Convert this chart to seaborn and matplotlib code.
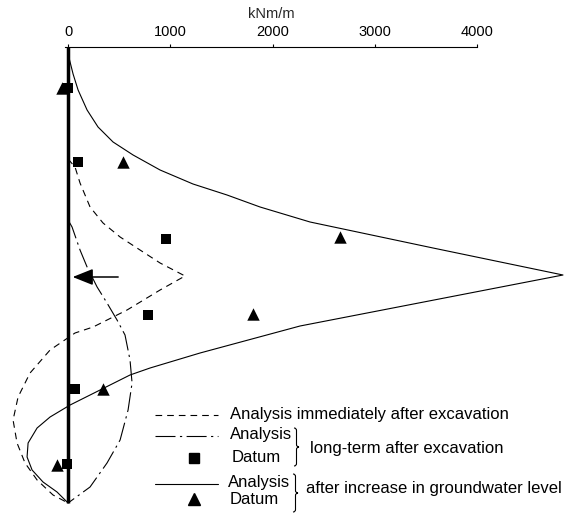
import numpy as np
import pandas as pd
import seaborn as sns
import matplotlib
matplotlib.use("Agg")
import matplotlib.pyplot as plt
from matplotlib.lines import Line2D
from matplotlib.path import Path
from matplotlib.patches import PathPatch

# Bending moment along the wall (kNm/m) versus depth below top of wall (m)
depth_immediate = [5.6, 6.0, 6.8, 8.0, 8.8, 9.5, 10.15, 10.8, 11.45, 12.15, 13.15, 14.0,
                   14.3, 15.15, 16.3, 17.5, 18.65, 19.8, 20.8, 21.65, 22.4, 22.8]
moment_immediate = [0, 68, 117, 215, 342, 509, 704, 900, 1144, 900, 577, 245,
                    68, -176, -372, -489, -538, -499, -421, -303, -147, 0]

depth_longterm = [8.65, 9.0, 10.15, 11.0, 12.0, 12.8, 13.65, 14.4, 15.65, 16.8,
                  18.15, 19.65, 20.8, 22.0, 22.8]
moment_longterm = [0, 39, 117, 186, 284, 381, 479, 557, 606, 626,
                   587, 509, 381, 215, 0]

depth_groundwater = [0.35, 1.35, 2.15, 3.15, 4.0, 4.75, 5.4, 6.15, 6.85, 7.4, 8.0, 8.75,
                     10.05, 11.4, 13.95, 15.3, 16.05, 16.4, 17.15, 17.9, 18.5, 19.05,
                     19.8, 20.5, 21.15, 21.75, 22.25, 22.8]
moment_groundwater = [0, 49, 98, 186, 293, 440, 636, 900, 1222, 1555, 1878, 2367,
                      3570, 4841, 2269, 1291, 802, 606, 313, 20, -176, -303,
                      -391, -401, -352, -245, -108, 0]

# Measured values
datum_longterm_depth = [2.05, 5.75, 9.6, 13.4, 17.1, 20.85]
datum_longterm_moment = [0, 98, 958, 782, 68, -10]
datum_groundwater_depth = [2.05, 5.75, 9.5, 13.35, 17.1, 20.9]
datum_groundwater_moment = [-59, 538, 2660, 1809, 342, -108]

wall_depth = [0, 22.8]
strut_depth = 11.5
x_ticks = [0, 1000, 2000, 3000, 4000]

sns.set_theme(style="white")
plt.rcParams["font.family"] = ["Liberation Sans", "DejaVu Sans"]

W, H = 576, 524
fig = plt.figure(figsize=(W / 100, H / 100), dpi=100)
ax = fig.add_axes([65 / W, 1 - 503 / H, 412 / W, (503 - 47) / H])


def fx(px):
    return px / W


def fy(py):
    return 1 - py / H


lw = 0.8
df_imm = pd.DataFrame({"m": moment_immediate, "d": depth_immediate})
df_lt = pd.DataFrame({"m": moment_longterm, "d": depth_longterm})
df_gw = pd.DataFrame({"m": moment_groundwater, "d": depth_groundwater})

sns.lineplot(data=df_imm, x="m", y="d", sort=False, estimator=None, ax=ax,
             color="black", lw=lw)
ax.lines[-1].set_dashes((6, 4.5))
sns.lineplot(data=df_lt, x="m", y="d", sort=False, estimator=None, ax=ax,
             color="black", lw=lw)
ax.lines[-1].set_dashes((18, 4, 2, 4))
sns.lineplot(data=df_gw, x="m", y="d", sort=False, estimator=None, ax=ax,
             color="black", lw=lw)
for ln in ax.lines:
    ln.set_solid_joinstyle("round")
    ln.set_dash_joinstyle("round")

sns.scatterplot(x=datum_longterm_moment, y=datum_longterm_depth, marker="s", s=55,
                color="black", edgecolor="black", linewidth=0, ax=ax, zorder=3)
sns.scatterplot(x=datum_groundwater_moment, y=datum_groundwater_depth, marker="^", s=80,
                color="black", edgecolor="black", linewidth=0, ax=ax, zorder=3)

# Wall
ax.plot([0, 0], wall_depth, color="black", lw=2.5, solid_capstyle="butt", zorder=4)

# Strut / anchor force
ax.annotate("", xy=(45, strut_depth), xytext=(490, strut_depth),
            arrowprops=dict(arrowstyle="-|>,head_length=1.25,head_width=0.5",
                            mutation_scale=10, lw=1.1, color="black",
                            shrinkA=0, shrinkB=0), zorder=5)

for ln in ax.lines:
    ln.set_clip_on(False)
for c in ax.collections:
    c.set_clip_on(False)

ax.set_xlim(-30, 4000)
ax.set_ylim(22.8, 0)
ax.xaxis.tick_top()
ax.xaxis.set_label_position("top")
ax.set_xticks(x_ticks)
ax.set_xticklabels([str(t) for t in x_ticks])
ax.set_yticks([])
ax.tick_params(axis="x", direction="out", length=2.5, width=0.8, pad=3.5,
               labelsize=10.5, colors="black", top=True, bottom=False)
ax.set_xlabel("kNm/m", fontsize=10.5, labelpad=5)
ax.set_ylabel("")
for side in ["left", "right", "bottom"]:
    ax.spines[side].set_visible(False)
ax.spines["top"].set_linewidth(0.8)
ax.spines["top"].set_color("black")
ax.patch.set_alpha(0)
ax.grid(False)

# Legend
ls_kw = dict(color="black", lw=lw, transform=fig.transFigure)
l1 = Line2D([fx(155), fx(218)], [fy(415), fy(415)], **ls_kw)
l1.set_dashes((6, 4.5))
l2 = Line2D([fx(155), fx(218)], [fy(436), fy(436)], **ls_kw)
l2.set_dashes((18, 4, 2, 4))
l3 = Line2D([fx(155), fx(218)], [fy(484), fy(484)], **ls_kw)
for l in (l1, l2, l3):
    fig.add_artist(l)
fig.add_artist(Line2D([fx(194)], [fy(458)], marker="s", ms=7, color="black", lw=0,
                      transform=fig.transFigure))
fig.add_artist(Line2D([fx(194)], [fy(499)], marker="^", ms=8.5, color="black", lw=0,
                      transform=fig.transFigure))

tk = dict(fontsize=12, va="center", ha="left", color="black")
fig.text(fx(230), fy(414), "Analysis immediately after excavation", **tk)
fig.text(fx(230), fy(435), "Analysis", **tk)
fig.text(fx(232), fy(457), "Datum", **tk)
fig.text(fx(310), fy(448), "long-term after excavation", **tk)
fig.text(fx(228), fy(482), "Analysis", **tk)
fig.text(fx(230), fy(500), "Datum", **tk)
fig.text(fx(306), fy(489), "after increase in groundwater level", **tk)


def brace(x, y0, y1, w=2.5):
    mid = (y0 + y1) / 2
    pts = [(x, y0), (x + w, y0), (x + w, y0 + w),
           (x + w, mid - w), (x + w, mid), (x + 2 * w, mid),
           (x + w, mid), (x + w, mid + w),
           (x + w, y1 - w), (x + w, y1), (x, y1)]
    codes = [Path.MOVETO, Path.CURVE3, Path.CURVE3,
             Path.LINETO, Path.CURVE3, Path.CURVE3,
             Path.CURVE3, Path.CURVE3,
             Path.LINETO, Path.CURVE3, Path.CURVE3]
    verts = [(fx(a), fy(b)) for a, b in pts]
    fig.add_artist(PathPatch(Path(verts, codes), fill=False, lw=0.8, color="black",
                             transform=fig.transFigure))


brace(294, 428, 466)
brace(293, 474, 512)

fig.savefig("out.png", dpi=100, facecolor="white")
